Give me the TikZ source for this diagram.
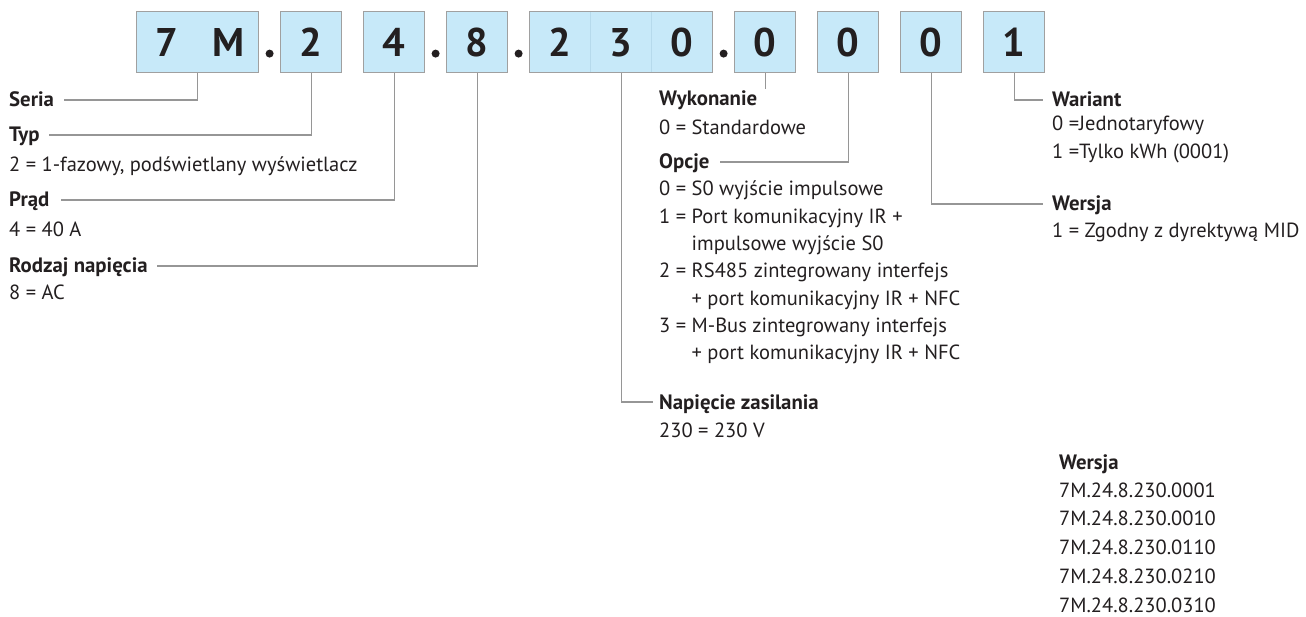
\documentclass[tikz,border=0pt]{standalone}
\usepackage{fontspec}
\setmainfont{PT Sans}
\usepackage{tikz}
\usetikzlibrary{positioning,%
  calc}

\definecolor{boxfill}{RGB}{199,233,249}
\definecolor{boxline}{RGB}{160,160,160}
\definecolor{divline}{RGB}{182,218,236}
\definecolor{linkgray}{RGB}{150,150,150}
\definecolor{ink}{RGB}{35,31,32}

\newcommand{\cd}[1]{\makebox[61pt]{#1}}

\tikzset{
  codebox/.style={draw=boxline, fill=boxfill, line width=1.2pt, inner sep=0pt,
    minimum width=61pt, minimum height=61pt, text=ink,
    font=\fontsize{40}{40}\selectfont\bfseries},
  sepdot/.style={circle, fill=ink, inner sep=0pt, minimum size=8pt},
  link/.style={draw=linkgray, line width=1.2pt},
  head/.style={anchor=base west, inner sep=0pt, text height=14pt, text depth=0pt,
    text=ink, font=\fontsize{20.8}{27.3}\selectfont\bfseries},
  desc/.style={anchor=base west, inner sep=0pt, align=left, text=ink,
    font=\fontsize{20.5}{27.3}\selectfont}
}

\begin{document}
\begin{tikzpicture}[x=1pt,y=-1pt]
            \useasboundingbox (0,0) rectangle (1306,617);

            \node[codebox, anchor=north west] (sr) at (136,11) {\cd{7}\cd{M}};
            \node[codebox, right=20.8pt of sr] (ty) {\cd{2}};
            \node[codebox, right=20.8pt of ty] (pr) {\cd{4}};
            \node[codebox, right=20.8pt of pr] (rn) {\cd{8}};
            \node[codebox, right=20.8pt of rn] (nz) {\cd{2}\cd{3}\cd{0}};
            \node[codebox, right=20.8pt of nz] (wk) {\cd{0}};
            \node[codebox, right=20.8pt of wk] (op) {\cd{0}};
            \node[codebox, right=20.8pt of op] (ws) {\cd{0}};
            \node[codebox, right=20.8pt of ws] (wr) {\cd{1}};

            \foreach \k in {1,2}
                \draw[divline, line width=0.8pt] ($(nz.north west)+(\k*61,1)$) -- ($(nz.south west)+(\k*61,-1)$);

            \node[sepdot] (dot1) at ($(sr.east)!0.5!(ty.west)+(0,11.5)$) {};
            \node[sepdot] (dot2) at ($(pr.east)!0.5!(rn.west)+(0,11.5)$) {};
            \node[sepdot] (dot3) at ($(rn.east)!0.5!(nz.west)+(0,11.5)$) {};
            \node[sepdot] (dot4) at ($(nz.east)!0.5!(wk.west)+(0,11.5)$) {};

            \node[head] (seria) at (9,107) {Seria};
            \node[head] (typ) at (9,142) {Typ};
            \node[desc] (typd) at (9,172) {2 = 1-fazowy, podświetlany wyświetlacz};
            \node[head] (prad) at (9,207) {Prąd};
            \node[desc] (pradd) at (9,237) {4 = 40 A};
            \node[head] (rodz) at (9,273) {Rodzaj napięcia};
            \node[desc] (rodzd) at (9,300) {8 = AC};

            \node[head] (wyk) at (659,106) {Wykonanie};
            \node[desc] (wykd) at (659,135) {0 = Standardowe};
            \node[head] (opc) at (659,169) {Opcje};
            \node[desc] (opcd) at (659,359.8) {0 = S0 wyjście impulsowe\\
                1 = Port komunikacyjny IR +\\
                \phantom{1 = }impulsowe wyjście S0\\
                2 = RS485 zintegrowany interfejs\\
                \phantom{2 = }+ port komunikacyjny IR + NFC\\
                3 = M-Bus zintegrowany interfejs\\
                \phantom{3 = }+ port komunikacyjny IR + NFC};
            \node[head] (nap) at (659,409) {Napięcie zasilania};
            \node[desc] (napd) at (659,437) {230 = 230 V};

            \node[head] (war) at (1052,107) {Wariant};
            \node[desc] (ward) at (1052,158.3) {0 =Jednotaryfowy\\1 =Tylko kWh (0001)};
            \node[head] (wer) at (1052,211) {Wersja};
            \node[desc] (werd) at (1052,238) {1 = Zgodny z dyrektywą MID};

            \node[head] (lista) at (1059,469) {Wersja};
            \foreach \v [count=\i] in {0001,0010,0110,0210,0310}
                \node[desc] (lista\i) at (1059,{497+(\i-1)*28.8}) {7M.24.8.230.\v};

            \draw[link, shorten >=10pt] (sr.south) |- (seria.east);
            \draw[link, shorten >=9pt] (ty.south) |- (typ.east);
            \draw[link, shorten >=11pt] (pr.south) |- (prad.east);
            \draw[link, shorten >=9pt] (rn.south) |- (rodz.east);
            \draw[link, shorten >=6pt] (nz.south) |- (nap.west);
            \coordinate (wkend) at ($(wk.south)+(0,16)$);
            \draw[link] (wk.south) -- (wkend);
            \draw[link, shorten >=10pt] (op.south) |- (opc.east);
            \draw[link, shorten >=9pt] (ws.south) |- (wer.west);
            \draw[link, shorten >=9pt] (wr.south) |- (war.west);
\end{tikzpicture}
\end{document}
